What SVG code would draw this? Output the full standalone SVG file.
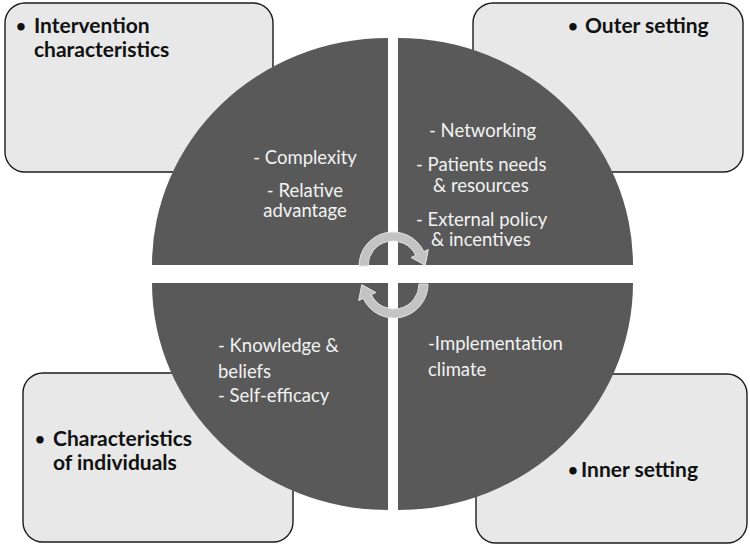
<svg xmlns="http://www.w3.org/2000/svg" width="750" height="547" viewBox="0 0 750 547">
<style>
.box{fill:#e8e8e8;stroke:#1c1c1c;stroke-width:1.4}
.quad{fill:#595959}
.head{font-family:Lato,"Liberation Sans",sans-serif;font-weight:bold;font-size:21px;fill:#111}
.bul{font-family:Lato,"Liberation Sans",sans-serif;font-weight:bold;font-size:17px;fill:#111}
.item{font-family:Lato,"Liberation Sans",sans-serif;font-size:18.5px;fill:#f2f2f2}
.arrow{fill:#c3c3c3;stroke:#e6e6e6;stroke-width:1}
</style>
<rect width="750" height="547" fill="#ffffff"/>
<g id="box-intervention">
<rect class="box" x="5" y="3" width="268" height="169" rx="20"/>
<text class="bul" x="16" y="32">•</text>
<text class="head"><tspan x="34" y="33">Intervention</tspan><tspan x="34" y="57">characteristics</tspan></text>
</g>
<g id="box-outer">
<rect class="box" x="473" y="3" width="270" height="169" rx="20"/>
<text class="bul" x="568" y="32">•</text>
<text class="head" x="585" y="33">Outer setting</text>
</g>
<g id="box-individuals">
<rect class="box" x="23" y="373" width="270" height="169" rx="20"/>
<text class="bul" x="35" y="445">•</text>
<text class="head"><tspan x="53" y="446">Characteristics</tspan><tspan x="53" y="470">of individuals</tspan></text>
</g>
<g id="box-inner">
<rect class="box" x="476" y="374" width="271" height="169" rx="20"/>
<text class="bul" x="568" y="476">•</text>
<text class="head" x="581" y="477">Inner setting</text>
</g>
<g id="quad-intervention">
<path class="quad" d="M388,265 L152,265 A236 227 0 0 1 388,38 Z"/>
<text class="item" text-anchor="middle"><tspan x="305" y="164">- Complexity</tspan><tspan x="305" y="197">- Relative</tspan><tspan x="305" y="217">advantage</tspan></text>
</g>
<g id="quad-outer">
<path class="quad" d="M398,265 L398,38 A235 227 0 0 1 633,265 Z"/>
<text class="item"><tspan x="429" y="137">- Networking</tspan><tspan x="416" y="171">- Patients needs</tspan><tspan x="433" y="192">&amp; resources</tspan><tspan x="416" y="226">- External policy</tspan><tspan x="431" y="246">&amp; incentives</tspan></text>
</g>
<g id="quad-individuals">
<path class="quad" d="M388,283 L388,510 A236 227 0 0 1 152,283 Z"/>
<text class="item"><tspan x="218" y="352">-  Knowledge &amp;</tspan><tspan x="218" y="378">beliefs</tspan><tspan x="218" y="402">- Self-efficacy</tspan></text>
</g>
<g id="quad-inner">
<path class="quad" d="M398,283 L633,283 A235 227 0 0 1 398,510 Z"/>
<text class="item"><tspan x="428" y="350">-Implementation</tspan><tspan x="428" y="376">climate</tspan></text>
</g>
<g id="connectors">
<path class="arrow" d="M359,266 A34 34 0 0 1 423.8,251.6 L428.3,249.5 L425.2,265.3 L411.1,257.5 L415.7,255.4 A25 25 0 0 0 368,266 Z"/>
<path class="arrow" d="M428,284 A34 34 0 0 1 363.2,298.4 L358.7,300.5 L361.8,284.7 L375.9,292.5 L371.3,294.6 A25 25 0 0 0 419,284 Z"/>
</g>
</svg>
